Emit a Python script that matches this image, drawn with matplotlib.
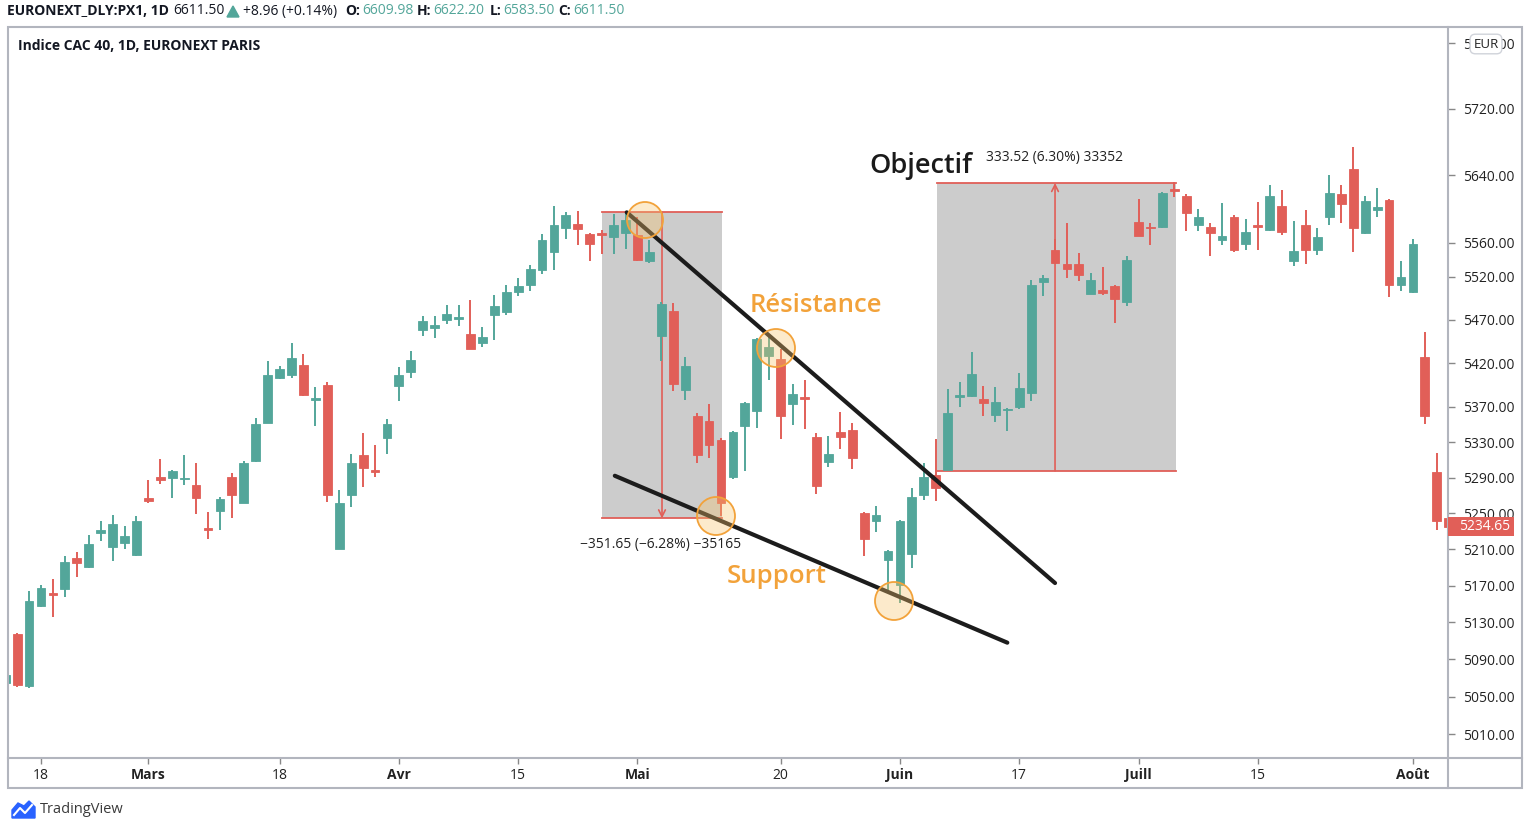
import matplotlib
matplotlib.use('Agg')
import matplotlib.pyplot as plt
import numpy as np
from matplotlib.patches import Rectangle, Circle, Polygon
from matplotlib.lines import Line2D
from matplotlib.transforms import Affine2D
from matplotlib.ticker import FixedLocator, FixedFormatter, NullLocator

plt.rcParams['font.family'] = ['Open Sans', 'DejaVu Sans']

# CAC 40 journalier, index 0 = lundi 18 février 2019 (un pas = une séance)
jours = list(range(-3, 119))

ouvertures = [5064, 5117, 5061,
              5148, 5162, 5167, 5200, 5191, 5228, 5213, 5217, 5204, 5267,
              5291, 5289, 5288, 5282, 5234, 5253, 5291, 5262, 5309, 5352,
              5403, 5406, 5418, 5378, 5395, 5211, 5270, 5315, 5298, 5334,
              5394, 5410, 5458, 5461, 5470, 5471, 5453, 5443, 5475, 5479,
              5502, 5511, 5528, 5549, 5578, 5582, 5570, 5571, 5567, 5571,
              5569, 5538, 5451, 5480, 5389, 5359, 5354, 5332, 5291, 5348,
              5365, 5428, 5425, 5373, 5381, 5336, 5307, 5341, 5344, 5250,
              5241, 5198, 5171, 5205, 5271, 5293, 5298, 5381, 5382, 5379,
              5361, 5366, 5370, 5386, 5514, 5551, 5535, 5535, 5500, 5505,
              5509, 5491, 5585, 5579, 5579, 5624, 5615, 5581, 5579, 5563,
              5590, 5559, 5581, 5575, 5603, 5538, 5581, 5551, 5591, 5618,
              5648, 5572, 5599, 5611, 5511, 5502, 5427, 5296, 5245]
hauts = [5080, 5118, 5164,
         5171, 5177, 5203, 5207, 5226, 5242, 5248, 5236, 5247, 5287,
         5311, 5298, 5315, 5306, 5252, 5268, 5295, 5309, 5357, 5422,
         5417, 5443, 5430, 5393, 5398, 5276, 5317, 5340, 5327, 5356,
         5415, 5434, 5474, 5474, 5487, 5487, 5493, 5462, 5499, 5511,
         5519, 5534, 5570, 5603, 5596, 5598, 5572, 5575, 5594, 5596,
         5590, 5563, 5491, 5490, 5427, 5363, 5373, 5335, 5343, 5375,
         5449, 5451, 5436, 5396, 5400, 5340, 5337, 5364, 5352, 5252,
         5258, 5209, 5243, 5278, 5306, 5333, 5390, 5398, 5433, 5394,
         5393, 5369, 5409, 5516, 5522, 5565, 5583, 5548, 5524, 5532,
         5511, 5545, 5612, 5583, 5620, 5632, 5618, 5600, 5583, 5607,
         5593, 5588, 5608, 5628, 5622, 5586, 5599, 5577, 5640, 5628,
         5674, 5616, 5625, 5612, 5539, 5565, 5456, 5318, 5250]
bas = [5060, 5060, 5059,
       5147, 5136, 5158, 5180, 5189, 5219, 5197, 5211, 5203, 5262,
       5283, 5267, 5282, 5249, 5221, 5232, 5245, 5261, 5308, 5351,
       5402, 5403, 5382, 5348, 5263, 5210, 5257, 5279, 5291, 5317,
       5376, 5403, 5451, 5449, 5465, 5463, 5436, 5439, 5446, 5475,
       5498, 5504, 5523, 5528, 5565, 5557, 5539, 5547, 5547, 5553,
       5538, 5536, 5422, 5388, 5378, 5306, 5312, 5247, 5288, 5297,
       5346, 5401, 5333, 5349, 5345, 5272, 5302, 5322, 5300, 5203,
       5229, 5162, 5151, 5189, 5265, 5264, 5298, 5370, 5381, 5359,
       5353, 5343, 5368, 5376, 5498, 5536, 5519, 5515, 5500, 5499,
       5466, 5486, 5568, 5557, 5578, 5614, 5574, 5574, 5545, 5557,
       5549, 5552, 5551, 5574, 5569, 5533, 5535, 5546, 5581, 5583,
       5549, 5570, 5591, 5497, 5504, 5501, 5350, 5231, 5225]
clotures = [5073, 5062, 5153,
            5168, 5160, 5196, 5195, 5216, 5231, 5238, 5225, 5241, 5264,
            5287, 5297, 5290, 5267, 5231, 5266, 5270, 5306, 5350, 5406,
            5413, 5426, 5383, 5379, 5270, 5261, 5306, 5301, 5296, 5350,
            5406, 5424, 5469, 5464, 5477, 5473, 5436, 5450, 5486, 5502,
            5509, 5529, 5563, 5581, 5593, 5576, 5558, 5569, 5581, 5587,
            5540, 5549, 5488, 5396, 5417, 5315, 5327, 5262, 5341, 5374,
            5448, 5438, 5359, 5385, 5379, 5281, 5317, 5336, 5312, 5222,
            5248, 5208, 5242, 5268, 5291, 5278, 5363, 5383, 5408, 5374,
            5375, 5368, 5391, 5510, 5519, 5536, 5529, 5522, 5516, 5501,
            5494, 5540, 5568, 5577, 5619, 5621, 5595, 5590, 5572, 5568,
            5552, 5573, 5579, 5615, 5573, 5550, 5552, 5567, 5619, 5606,
            5578, 5610, 5602, 5511, 5520, 5558, 5360, 5241, 5234.65]

ticks_x = [0, 9, 20, 30, 40, 50, 62, 72, 82, 92, 102, 115]
labels_x = ['18', 'Mars', '18', 'Avr', '15', 'Mai', '20', 'Juin', '17', 'Juill', '15', 'Août']
ticks_y = [5010, 5050, 5090, 5130, 5170, 5210, 5250, 5290, 5330, 5370,
           5420, 5470, 5520, 5560, 5640, 5720, 5800]
dernier_cours = 5234.65

# mesures dessinées sur le graphique : (début, fin, bas, haut)
mesure_baisse = (47.06, 57.05, 5244.35, 5596.0)
mesure_hausse = (75.08, 95.13, 5297.5, 5631.0)
resistance = ([49.1, 85.0], [5596, 5173])
support = ([48.1, 81.0], [5292, 5108])

VERT = '#53a69a'
ROUGE = '#e15f58'
ORANGE = '#f2a23a'
GRIS_BORD = '#b2b5be'
TEXTE = '#131722'

W, H = 1536, 824
fig = plt.figure(figsize=(W / 100, H / 100), dpi=100)
tp = Affine2D().scale(1 / W, -1 / H).translate(0, 1) + fig.transFigure


def px_text(x, y, s, **kw):
    kw.setdefault('va', 'center')
    kw.setdefault('ha', 'left')
    kw.setdefault('color', TEXTE)
    return fig.text(x, y, s, transform=tp, **kw)


ax = fig.add_axes([8 / W, 1 - 758 / H, 1440 / W, 731 / H])
ax.set_yscale('log')
ax.set_ylim(4984.6, 5820.3)
ax.set_xlim(-2.766, 117.94)
for s in ax.spines.values():
    s.set_visible(False)

# bougies
x = np.array(jours)
o = np.array(ouvertures, dtype=float)
c = np.array(clotures, dtype=float)
hausse = c >= o
couleurs = np.where(hausse, VERT, ROUGE)
ax.vlines(x, bas, hauts, colors=couleurs, lw=1.4, zorder=3)
bas_corps = np.minimum(o, c)
haut_corps = np.maximum(np.abs(c - o), 1.5)
ax.bar(x, haut_corps, bottom=bas_corps, width=0.74, color=couleurs,
       edgecolor=couleurs, lw=0.6, zorder=4)

# rectangles de mesure
for (x0, x1, p0, p1) in (mesure_baisse, mesure_hausse):
    ax.add_patch(Rectangle((x0, p0), x1 - x0, p1 - p0, facecolor='#cccccc',
                           edgecolor='none', zorder=1))
    ax.plot([x0, x1], [p0, p0], color=ROUGE, lw=1.3, zorder=2)
    ax.plot([x0, x1], [p1, p1], color=ROUGE, lw=1.3, zorder=2)

xm = (mesure_baisse[0] + mesure_baisse[1]) / 2
ax.annotate('', xy=(xm, mesure_baisse[2]), xytext=(xm, mesure_baisse[3]),
            arrowprops=dict(arrowstyle='->', color=ROUGE, lw=1.2,
                            shrinkA=0, shrinkB=0, mutation_scale=12), zorder=2)
xm2 = 85.0
ax.annotate('', xy=(xm2, mesure_hausse[3]), xytext=(xm2, mesure_hausse[2]),
            arrowprops=dict(arrowstyle='->', color=ROUGE, lw=1.2,
                            shrinkA=0, shrinkB=0, mutation_scale=12), zorder=2)

# lignes de tendance
ax.plot(*resistance, color='#1c1c1c', lw=3, solid_capstyle='round', zorder=5)
ax.plot(*support, color='#1c1c1c', lw=3, solid_capstyle='round', zorder=5)

# axes
ax.yaxis.tick_right()
ax.yaxis.set_major_locator(FixedLocator(ticks_y))
ax.yaxis.set_major_formatter(FixedFormatter(['%.2f' % v for v in ticks_y]))
ax.yaxis.set_minor_locator(NullLocator())
ax.tick_params(axis='y', which='major', length=5, width=1, color='#888888',
               pad=6, labelsize=10, labelcolor='#222222')
ax.xaxis.set_major_locator(FixedLocator(ticks_x))
ax.xaxis.set_major_formatter(FixedFormatter(labels_x))
ax.tick_params(axis='x', length=4, width=1, color='#888888', pad=3,
               labelsize=10, labelcolor='#222222')
for t, lab in zip(ax.get_xticklabels(), labels_x):
    if not lab.isdigit():
        t.set_fontweight('bold')

# cadre
fig.add_artist(Rectangle((8, 27), 1514, 761, transform=tp, fill=False,
                         edgecolor=GRIS_BORD, lw=1.5, zorder=10))
fig.add_artist(Line2D([1448, 1448], [27, 788], transform=tp, color=GRIS_BORD, lw=1.5, zorder=10))
fig.add_artist(Line2D([8, 1522], [758, 758], transform=tp, color=GRIS_BORD, lw=1.5, zorder=10))

# cercles
for (cx, cy, r) in [(645, 220, 18), (776, 348, 19), (716, 516, 19), (894, 601, 19)]:
    fig.add_artist(Circle((cx, cy), r, transform=tp, facecolor='#f9c46b',
                          alpha=0.35, edgecolor='none', zorder=6))
    fig.add_artist(Circle((cx, cy), r, transform=tp, fill=False,
                          edgecolor=ORANGE, lw=1.3, zorder=6))

# textes d'annotation
px_text(661, 545, '\u2212351.65 (\u22126.28%) \u221235165', ha='center', fontsize=10, color='#222222')
px_text(1055, 158, '333.52 (6.30%) 33352', ha='center', fontsize=10, color='#222222')
px_text(869, 166, 'Objectif', fontsize=19.5, fontweight='semibold', color='#1a1a1a')
px_text(750, 305, 'Résistance', fontsize=18.5, fontweight='semibold', color=ORANGE)
px_text(727, 577, 'Support', fontsize=18.5, fontweight='semibold', color=ORANGE)

# en-têtes
px_text(18, 46, 'Indice CAC 40, 1D, EURONEXT PARIS', fontsize=10, fontweight='bold')
px_text(7, 11, 'EURONEXT_DLY:PX1, 1D', fontsize=10, fontweight='bold')
px_text(173, 11, '6611.50', fontsize=10)
fig.add_artist(Polygon([(227, 17), (239, 17), (233, 6)], closed=True, transform=tp,
                       color=VERT, zorder=10))
px_text(243, 11, '+8.96 (+0.14%)', fontsize=10)
for lx, lab, vx, val in [(345, 'O:', 362, '6609.98'), (417, 'H:', 433, '6622.20'),
                         (490, 'L:', 503, '6583.50'), (558, 'C:', 573, '6611.50')]:
    px_text(lx, 11, lab, fontsize=10, fontweight='bold')
    px_text(vx, 11, val, fontsize=10, color=VERT)

# étiquettes de l'échelle des prix
px_text(1486, 44, 'EUR', ha='center', fontsize=9.5, color='#222222', zorder=12,
        bbox=dict(boxstyle='round,pad=0.25,rounding_size=0.4', facecolor='white',
                  edgecolor='#d0d3da', lw=1))
fig.add_artist(Rectangle((1448, 517), 66, 19, transform=tp, facecolor=ROUGE,
                         edgecolor='none', zorder=11))
px_text(1459, 526.5, '%.2f' % dernier_cours, fontsize=10, color='white', zorder=12)

# logo TradingView
fig.add_artist(Polygon([(12, 818), (12, 810), (18, 803), (24, 806), (29, 801),
                        (35, 807), (35, 818)], closed=True, transform=tp,
                       color='#2962ff', zorder=10))
fig.add_artist(Line2D([14, 20, 25, 32], [815, 808, 813, 805], transform=tp,
                      color='white', lw=1.5, zorder=11))
px_text(40, 810, 'TradingView', fontsize=10.5, color='#3a3a3a')

fig.savefig('out.png', dpi=100, facecolor='white')
